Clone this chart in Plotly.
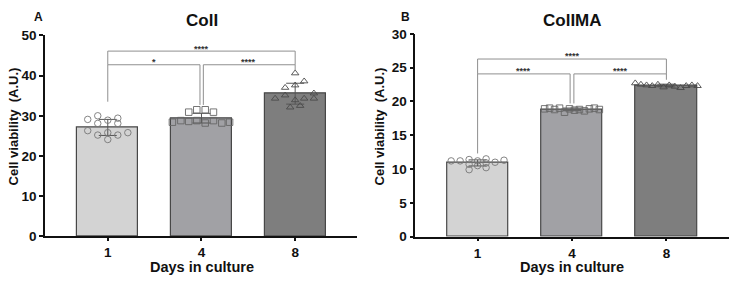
import plotly.graph_objects as go

# ---------------- data ----------------
days = ["1", "4", "8"]

# Panel A (ColI)
a_means = [27.1, 29.4, 35.5]
a_sd = [2.0, 1.2, 2.6]
a_day1 = [29.1, 30.0, 28.9, 29.4, 28.1, 28.1, 26.3, 25.2, 25.8, 25.2, 25.8, 24.1]
a_day4 = [28.4, 28.8, 28.6, 28.8, 28.2, 28.8, 28.2, 28.4, 30.9, 31.5, 31.5, 30.9]
a_day8 = [40.6, 37.0, 37.6, 38.6, 34.3, 35.1, 33.9, 34.3, 34.3, 35.6, 32.1, 32.5]

# Panel B (ColIMA)
b_means = [10.9, 18.82, 22.35]
b_sd = [0.45, 0.2, 0.2]
b_day1 = [11.2, 11.2, 11.4, 11.2, 11.5, 11.0, 11.3, 10.7, 10.5, 10.9, 9.9, 10.2]
b_day4 = [18.9, 19.0, 18.8, 19.0, 18.4, 18.9, 18.7, 18.8, 18.6, 18.9, 19.0, 18.8]
b_day8 = [22.7, 22.5, 22.4, 22.3, 22.5, 22.1, 22.4, 22.2, 22.0, 22.3, 22.4, 22.3]

a_stars = ["****", "*", "****"]
b_stars = ["****", "****", "****"]

# ---------------- layout constants (positions / styles) ----------------
a_off1 = [-0.214, -0.107, 0, 0.107, -0.107, 0.107, -0.214, -0.107, 0, 0.107, 0.214, 0]
a_off4 = [-0.31, -0.22, -0.136, -0.05, 0.04, 0.128, 0.217, 0.30, -0.136, -0.05, 0.04, 0.128]
a_off8 = [0, -0.107, 0, 0.096, -0.214, -0.107, 0, 0.096, 0.2, 0.2, -0.053, 0.053]
b_off1 = [-0.28, -0.185, -0.09, 0, 0.09, 0.185, 0.28, -0.09, 0, 0.09, -0.09, 0.09]
b_off4 = [-0.29 + i * 0.0527 for i in range(12)]
b_off8 = [-0.33 + i * 0.06 for i in range(12)]

W, H = 734, 286
FONT = "Liberation Sans, Arial, sans-serif"
bar_colors = ["#d3d3d3", "#a1a1a5", "#7e7e7e"]
pt_colors = ["#777777", "#666666", "#4a4a4a"]
br_color = "#8f8f8f"
symbols = ["circle-open", "square-open", "triangle-up-open"]

fig = go.Figure()


def add_panel(xa, ya, means, sd, groups, offs):
    fig.add_trace(go.Bar(
        x=[0, 1, 2], y=means, width=0.65,
        marker=dict(color=bar_colors, line=dict(color="#474747", width=1.2)),
        error_y=dict(type="data", array=sd, color="#555555", thickness=1, width=9),
        xaxis=xa, yaxis=ya, showlegend=False, hoverinfo="skip"))
    for i, (vals, off) in enumerate(zip(groups, offs)):
        fig.add_trace(go.Scatter(
            x=[i + o for o in off], y=vals, mode="markers",
            marker=dict(symbol=symbols[i], size=6.5, color=pt_colors[i],
                        line=dict(width=0.9, color=pt_colors[i])),
            xaxis=xa, yaxis=ya, showlegend=False, hoverinfo="skip"))


add_panel("x", "y", a_means, a_sd, [a_day1, a_day4, a_day8], [a_off1, a_off4, a_off8])
add_panel("x2", "y2", b_means, b_sd, [b_day1, b_day4, b_day8], [b_off1, b_off4, b_off8])

shapes = []


def path(xr, yr, pts):
    d = "M " + " L ".join(f"{x},{y}" for x, y in pts)
    shapes.append(dict(type="path", path=d, xref=xr, yref=yr,
                       line=dict(color=br_color, width=1)))


# Panel A brackets
path("x", "y", [(0, 42.7), (0, 46.1), (2, 46.1), (2, 42.7)])
path("x", "y", [(0, 33.5), (0, 42.7), (0.984, 42.7), (0.984, 32.7)])
path("x", "y", [(1.02, 32.7), (1.02, 42.7), (2, 42.7), (2, 41.3)])
# Panel B brackets
path("x2", "y2", [(0, 24.07), (0, 26.27), (2, 26.27), (2, 24.07)])
path("x2", "y2", [(0, 12.3), (0, 24.07), (0.98, 24.07), (0.98, 19.7)])
path("x2", "y2", [(1.02, 19.7), (1.02, 24.07), (2, 24.07), (2, 23.2)])

ann = []


def star(xr, yr, x, y, t):
    ann.append(dict(x=x, y=y, xref=xr, yref=yr, text=t, showarrow=False,
                    yanchor="middle", yshift=-2,
                    font=dict(family=FONT, size=9, color="#333333", weight="bold")))


star("x", "y", 1.0, 47.1, a_stars[0])
star("x", "y", 0.49, 43.8, a_stars[1])
star("x", "y", 1.5, 43.8, a_stars[2])
star("x2", "y2", 1.0, 26.95, b_stars[0])
star("x2", "y2", 0.49, 24.8, b_stars[1])
star("x2", "y2", 1.51, 24.8, b_stars[2])


def ptext(px, py, t, size, angle=0):
    ann.append(dict(x=px / W, y=1 - py / H, xref="paper", yref="paper", text=t,
                    showarrow=False, textangle=angle, xanchor="center", yanchor="middle",
                    font=dict(family=FONT, size=size, color="#111111", weight="bold")))


ptext(201.7, 14, "ColI", 17)
ptext(38, 11, "A", 12)
ptext(572, 14, "ColIMA", 17)
ptext(406, 11, "B", 12)
ptext(201.7, 274, "Days in culture", 14.5)
ptext(572, 274, "Days in culture", 14.5)
ptext(13, 126, "Cell viability\u00a0 (A.U.)", 13, -90)
ptext(379, 126, "Cell viability\u00a0 (A.U.)", 13, -90)

axis_common = dict(showline=True, linecolor="#111111", linewidth=1.5, ticks="outside",
                   tickcolor="#111111", tickwidth=1.5, showgrid=False, zeroline=False,
                   tickfont=dict(family=FONT, size=13.5, color="#111111", weight="bold"))

fig.update_layout(
    width=W, height=H, margin=dict(l=0, r=0, t=0, b=0),
    paper_bgcolor="white", plot_bgcolor="white", showlegend=False,
    bargap=0, shapes=shapes, annotations=ann,
    xaxis=dict(domain=[45 / W, 357 / W], range=[-0.67, 2.66], tickvals=[0, 1, 2],
               ticktext=days, ticklen=3, anchor="y", **axis_common),
    yaxis=dict(domain=[1 - 242 / H, 1 - 30 / H], range=[0, 50], dtick=10, ticklen=4,
               anchor="x", **axis_common),
    xaxis2=dict(domain=[415.3 / W, 728.7 / W], range=[-0.66, 2.66], tickvals=[0, 1, 2],
                ticktext=days, ticklen=3, anchor="y2", **axis_common),
    yaxis2=dict(domain=[1 - 242.3 / H, 1 - 28.3 / H], range=[0, 30], dtick=5, ticklen=4,
                anchor="x2", **axis_common),
)

fig.write_html("out.html")
